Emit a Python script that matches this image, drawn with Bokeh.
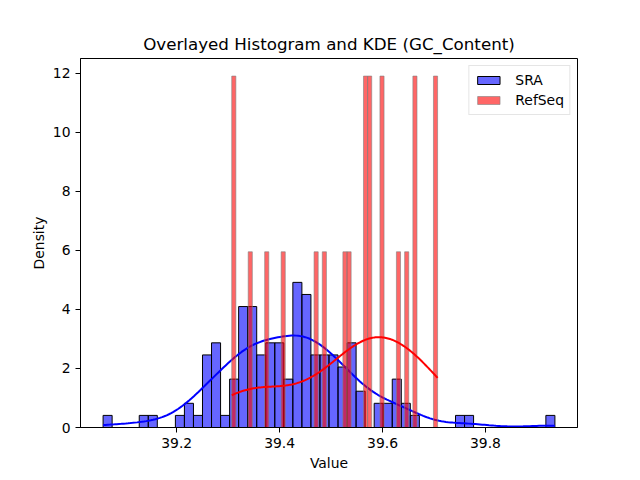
import numpy as np
from bokeh.plotting import figure
from bokeh.models import Range1d, FixedTicker
from bokeh.embed import file_html
from bokeh.resources import INLINE

# ---- data (50 bins per series, counts per bin) ----
SRA_RANGE = (39.057, 39.935)
SRA_COUNTS = [1, 0, 0, 0, 1, 1, 0, 0, 1, 2,
              1, 6, 7, 1, 4, 10, 10, 6, 7, 7,
              4, 12, 11, 6, 6, 6, 5, 7, 3, 0,
              2, 2, 4, 2, 1, 0, 0, 0, 0, 1,
              1, 0, 0, 0, 0, 0, 0, 0, 0, 1]

REFSEQ_RANGE = (39.307, 39.707)
REFSEQ_COUNTS = [2, 0, 0, 0, 1, 0, 0, 0, 1, 0,
                 0, 0, 1, 0, 0, 0, 0, 0, 0, 0,
                 1, 0, 1, 0, 0, 0, 0, 1, 1, 0,
                 0, 0, 2, 2, 0, 0, 2, 0, 0, 0,
                 1, 0, 1, 0, 2, 0, 0, 0, 0, 2]

X_TICKS = [39.2, 39.4, 39.6, 39.8]
Y_TICKS = [0, 2, 4, 6, 8, 10, 12]
TITLE = "Overlayed Histogram and KDE (GC_Content)"
FONT = "DejaVu Sans"


def hist(counts, rng):
    counts = np.asarray(counts, dtype=float)
    edges = np.linspace(rng[0], rng[1], len(counts) + 1)
    width = edges[1] - edges[0]
    dens = counts / (counts.sum() * width)
    return edges, dens


def kde(counts, rng, gridsize=200):
    edges = np.linspace(rng[0], rng[1], len(counts) + 1)
    centers = 0.5 * (edges[:-1] + edges[1:])
    samples = np.repeat(centers, counts)
    n = len(samples)
    bw = samples.std(ddof=1) * n ** (-0.2)
    grid = np.linspace(rng[0], rng[1], gridsize)
    z = (grid[:, None] - samples[None, :]) / bw
    y = np.exp(-0.5 * z ** 2).sum(axis=1) / (n * bw * np.sqrt(2 * np.pi))
    return grid, y


lo = min(SRA_RANGE[0], REFSEQ_RANGE[0])
hi = max(SRA_RANGE[1], REFSEQ_RANGE[1])
pad = 0.05 * (hi - lo)

e_s, d_s = hist(SRA_COUNTS, SRA_RANGE)
e_r, d_r = hist(REFSEQ_COUNTS, REFSEQ_RANGE)
ymax = max(d_s.max(), d_r.max()) * 1.05

p = figure(width=640, height=480, output_backend="svg", toolbar_location=None,
           x_range=Range1d(lo - pad, hi + pad), y_range=Range1d(0, ymax),
           min_border_left=80, min_border_right=63, min_border_top=58,
           min_border_bottom=53, title=TITLE)

p.quad(left=e_s[:-1], right=e_s[1:], bottom=0, top=d_s,
       fill_color="#0000ff", fill_alpha=0.6, line_color="black", line_width=1,
       legend_label="SRA")
gx, gy = kde(SRA_COUNTS, SRA_RANGE)
p.line(gx, gy, line_color="blue", line_width=2)

p.quad(left=e_r[:-1], right=e_r[1:], bottom=0, top=d_r,
       fill_color="#ff0000", fill_alpha=0.6, line_color="gray", line_alpha=0.6,
       line_width=1, legend_label="RefSeq")
gx, gy = kde(REFSEQ_COUNTS, REFSEQ_RANGE)
p.line(gx, gy, line_color="red", line_width=2)

p.xgrid.visible = False
p.ygrid.visible = False
p.outline_line_color = "black"
p.outline_line_width = 1
p.outline_line_alpha = 1

p.title.text_font = FONT
p.title.text_font_size = "16.7px"
p.title.text_font_style = "normal"
p.title.align = "center"
p.title.text_color = "black"

for ax, ticks in ((p.xaxis[0], X_TICKS), (p.yaxis[0], Y_TICKS)):
    ax.ticker = FixedTicker(ticks=ticks)
    ax.minor_tick_line_color = None
    ax.major_tick_in = 0
    ax.major_tick_out = 5
    ax.major_tick_line_color = "black"
    ax.axis_line_color = "black"
    ax.major_label_text_font = FONT
    ax.major_label_text_font_size = "13.9px"
    ax.major_label_text_color = "black"
    ax.major_label_standoff = 5
    ax.axis_label_text_font = FONT
    ax.axis_label_text_font_size = "13.9px"
    ax.axis_label_text_font_style = "normal"
    ax.axis_label_text_color = "black"

p.xaxis[0].axis_label_standoff = 4
p.yaxis[0].axis_label_standoff = 3
p.xaxis.axis_label = "Value"
p.yaxis.axis_label = "Density"

lg = p.legend[0]
lg.location = "top_right"
lg.margin = 7
lg.padding = 5
lg.spacing = 2
lg.glyph_width = 28
lg.glyph_height = 10
lg.label_height = 18
lg.label_standoff = 13
lg.label_text_font = FONT
lg.label_text_font_size = "13.9px"
lg.label_text_color = "black"
lg.border_line_color = "#cccccc"
lg.border_line_width = 1
lg.background_fill_alpha = 0.8

open("out.html", "w").write(file_html(p, INLINE))
